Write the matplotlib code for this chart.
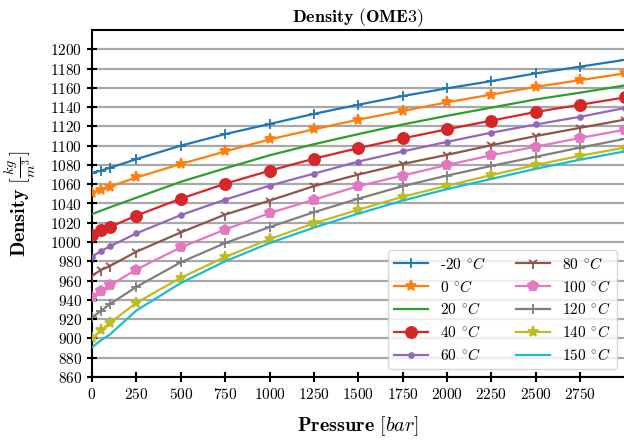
import numpy as np
import matplotlib
matplotlib.use('Agg')
import matplotlib.pyplot as plt

plt.rcParams['font.family'] = 'serif'
plt.rcParams['font.serif'] = ['cmr10']
plt.rcParams['mathtext.fontset'] = 'cm'
plt.rcParams['axes.formatter.use_mathtext'] = True

pressure = [1, 50, 100, 250, 500, 750, 1000, 1250, 1500, 1750, 2000, 2250, 2500, 2750, 3000]
temperatures = [-20, 0, 20, 40, 60, 80, 100, 120, 140, 150]

rho_m20 = [1072, 1074, 1077, 1086, 1100, 1112, 1122.5, 1133, 1142.5, 1151.5, 1159.5, 1167, 1175, 1182, 1189]
rho_0 = [1051, 1054, 1057.5, 1067, 1081, 1094, 1106.5, 1117, 1127, 1136, 1145, 1153, 1161, 1168, 1175]
rho_20 = [1029, 1032.5, 1036, 1046, 1062.5, 1076.5, 1090, 1101.5, 1112, 1122, 1131, 1139.5, 1148, 1155, 1162.5]
rho_40 = [1007, 1012, 1015.5, 1027.5, 1045, 1060.5, 1074, 1086.5, 1097.5, 1107.5, 1117, 1126, 1135, 1142.5, 1150]
rho_60 = [985, 990.5, 995.5, 1009, 1028, 1044, 1058.5, 1071, 1083.5, 1094, 1104, 1113.5, 1122, 1130, 1139]
rho_80 = [965, 971, 975, 990, 1010, 1028.5, 1043, 1058, 1070, 1081, 1090.5, 1100.5, 1110, 1118.5, 1127]
rho_100 = [943, 949, 955, 971.5, 994.5, 1013, 1030, 1044, 1058, 1069, 1080, 1090, 1099, 1108, 1116.5]
rho_120 = [922, 928.5, 935.5, 953.5, 979, 999, 1015.5, 1031, 1045, 1058, 1069, 1079, 1088.5, 1098, 1107]
rho_140 = [900, 908.5, 916, 937, 963, 984.5, 1003, 1019.5, 1033.5, 1047, 1058.5, 1069.5, 1080, 1089.5, 1098]
rho_150 = [891, 898, 904, 929, 957.5, 980, 999, 1015, 1029.5, 1043, 1055, 1065.5, 1076, 1085.5, 1094]

densities = [rho_m20, rho_0, rho_20, rho_40, rho_60, rho_80, rho_100, rho_120, rho_140, rho_150]
markers = ['+', '*', '', 'o', '.', '1', 'p', '+', '*', '']
msizes = [7, 8, 0, 8, 7, 8, 7.5, 7, 8, 0]

fig = plt.figure(figsize=(6.24, 4.42), dpi=100)
ax = fig.add_axes([92 / 624, 65 / 442, 532.6 / 624, 347 / 442])

for T, rho, m, ms in zip(temperatures, densities, markers, msizes):
    ax.plot(pressure, rho, marker=m, markersize=ms, linewidth=1.6,
            markeredgewidth=1.3, label=r'%d $^{\circ}C$' % T, zorder=3)

ax.set_xlim(0, 3000)
ax.set_ylim(860, 1220)
ax.set_xticks(np.arange(0, 3000, 250))
ax.set_yticks(np.arange(860, 1201, 20))
ax.grid(axis='y', color='#a8a8a8', linewidth=1.6, zorder=0)
ax.set_axisbelow(True)

for s in ax.spines.values():
    s.set_linewidth(1.5)
ax.spines['right'].set_visible(False)
ax.tick_params(direction='inout', length=7, width=1.5, labelsize=11)

ax.set_title(r'$\mathbf{Density\ (OME3)}$', fontsize=13)
ax.set_xlabel(r'$\mathbf{Pressure}\ [bar]$', fontsize=14.5, labelpad=9)
ax.set_ylabel(r'$\mathbf{Density}\ [\frac{kg}{m^3}]$', fontsize=14.5, labelpad=9)

ax.legend(ncol=2, loc='lower right', fontsize=11, framealpha=0.8,
          labelspacing=0.45, columnspacing=2.0, handlelength=2.2)

plt.savefig('out.png', dpi=100)
